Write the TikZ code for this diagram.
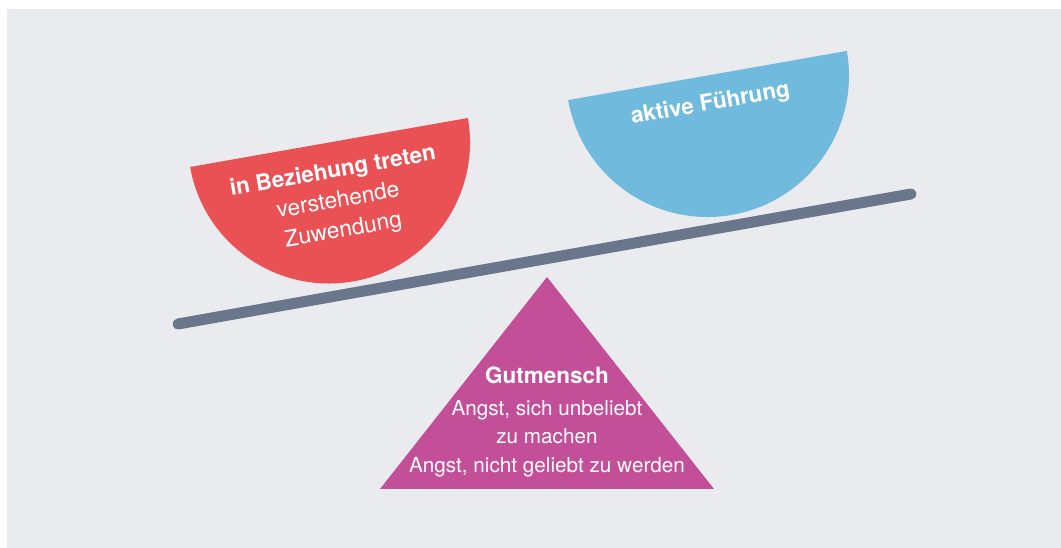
\documentclass[tikz,border=0pt]{standalone}
\usepackage{fontspec}
\setmainfont{TeX Gyre Heros}
\definecolor{bgc}{HTML}{EAEBEE}
\definecolor{redc}{HTML}{EA5155}
\definecolor{bluec}{HTML}{70BADD}
\definecolor{beamc}{HTML}{6A768C}
\definecolor{magc}{HTML}{C24F97}
\tikzset{
  lbl/.style={text=white, anchor=base, inner sep=0pt},
  boldlbl/.style={lbl, font=\fontsize{22.5}{27}\selectfont\bfseries},
  redblock/.style={text=white, inner sep=0pt, anchor=center, align=center, rotate=10,
     font=\fontsize{22.7}{30}\selectfont},
  trilbl/.style={lbl, font=\fontsize{20.7}{25}\selectfont}
}
\begin{document}
\begin{tikzpicture}[x=1pt,y=1pt]
\useasboundingbox (0,0) rectangle (1061,548);
\fill[bgc] (7,0) rectangle (1061,539);
% red bowl
\begin{scope}[shift={(329,405.5)}, rotate=10]
  \fill[redc] (-141,0) arc[start angle=180, end angle=360, radius=141] -- cycle;
\end{scope}
% blue bowl
\begin{scope}[shift={(707.5,472.5)}, rotate=10]
  \fill[bluec] (-141.5,0) arc[start angle=180, end angle=360, radius=141.5] -- cycle;
\end{scope}
% beam
\coordinate (bl) at (178,224);
\coordinate (br) at (911,354);
\draw[beamc, line width=11pt, line cap=round] (bl) -- (br);
% fulcrum
\fill[magc] (547,271) -- (714,59) -- (380,59) -- cycle;
% texts
\node[redblock] (r1) at (338.2,346.6) {{\bfseries\fontsize{22.5}{30}\selectfont in Beziehung treten}\\verstehende\\Zuwendung};
\node[boldlbl, rotate=10] (b1) at (711.5,438) {aktive Führung};
\node[boldlbl] (t1) at (547,164.7) {Gutmensch};
\node[trilbl] (t2) at (547,132.3) {Angst, sich unbeliebt};
\node[trilbl] (t3) at (547,104.7) {zu machen};
\node[trilbl] (t4) at (547,75.3) {Angst, nicht geliebt zu werden};
\end{tikzpicture}
\end{document}
